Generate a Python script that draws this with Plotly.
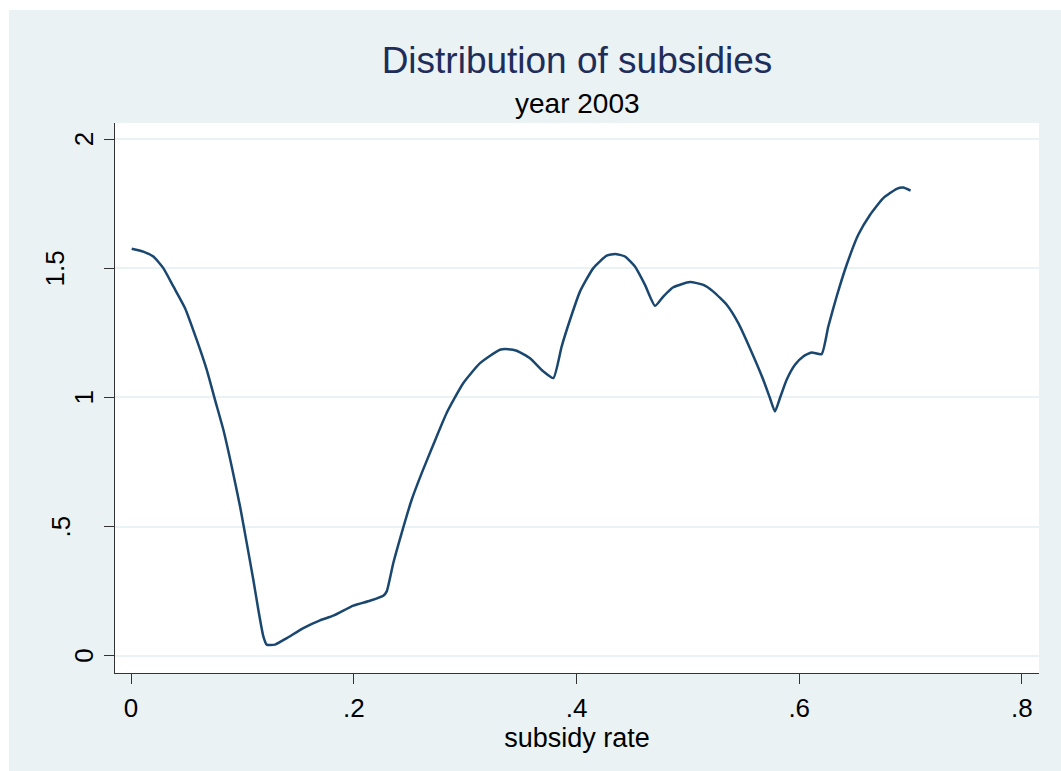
import plotly.graph_objects as go

# Kernel density estimate of subsidy rates, year 2003
subsidy_rate = [
    0.0006, 0.011, 0.020, 0.029, 0.038, 0.0485, 0.059, 0.068, 0.0754, 0.0829,
    0.0904, 0.0979, 0.1039, 0.1098, 0.1143, 0.1188, 0.1218, 0.1293, 0.1398, 0.1547,
    0.1697, 0.1817, 0.1996, 0.2146, 0.2265, 0.2296, 0.2355, 0.2430, 0.2520, 0.2610,
    0.2714, 0.2834, 0.2984, 0.3134, 0.3313, 0.3388, 0.3463, 0.3582, 0.3702, 0.3792,
    0.3867, 0.3942, 0.4031, 0.4151, 0.4271, 0.4346, 0.4435, 0.4525, 0.4615, 0.4705,
    0.4779, 0.4869, 0.5019, 0.5139, 0.5229, 0.5349, 0.5453, 0.5557, 0.5677, 0.5737,
    0.5782, 0.5827, 0.5887, 0.5962, 0.6036, 0.6111, 0.6201, 0.6261, 0.6336, 0.6426,
    0.6530, 0.6635, 0.6755, 0.6875, 0.6934, 0.7000,
]
density = [
    1.576, 1.565, 1.546, 1.501, 1.430, 1.346, 1.223, 1.107, 0.991, 0.875,
    0.733, 0.578, 0.436, 0.294, 0.178, 0.075, 0.043, 0.043, 0.068, 0.107,
    0.137, 0.155, 0.194, 0.213, 0.232, 0.249, 0.359, 0.475, 0.604, 0.707,
    0.817, 0.940, 1.056, 1.133, 1.185, 1.187, 1.181, 1.152, 1.101, 1.075,
    1.198, 1.301, 1.410, 1.501, 1.549, 1.556, 1.546, 1.507, 1.436, 1.355,
    1.391, 1.427, 1.447, 1.436, 1.410, 1.359, 1.288, 1.191, 1.069, 0.998,
    0.946, 0.998, 1.069, 1.127, 1.159, 1.174, 1.168, 1.275, 1.391, 1.514,
    1.630, 1.707, 1.772, 1.808, 1.813, 1.801,
]

x_tick_vals = [0, 0.2, 0.4, 0.6, 0.8]
x_tick_text = ["0", ".2", ".4", ".6", ".8"]
y_tick_vals = [0, 0.5, 1, 1.5, 2]
y_tick_text = ["0", ".5", "1", "1.5", "2"]

title_text = "Distribution of subsidies"
subtitle_text = "year 2003"
x_title = "subsidy rate"

W, H = 1061, 771
M_L, M_R, M_T, M_B = 115, 22, 123, 98
PW, PH = W - M_L - M_R, H - M_T - M_B

BG = "#EAF2F3"
NAVY = "#1A476F"
AXIS = "#333333"
FONT = "Liberation Sans, Arial, Helvetica, sans-serif"

# horizontal centre (in pixels) of each rotated y label, Stata-style placement
Y_LABEL_CENTER = {"0": 84, ".5": 61, "1": 84, "1.5": 55, "2": 84}


def px_x(p):
    return (p - M_L) / PW


def px_y(p):
    return (H - M_B - p) / PH


def cont_y(p):
    return (H - p) / H


fig = go.Figure()
fig.add_trace(go.Scatter(
    x=subsidy_rate, y=density, mode="lines",
    line=dict(color=NAVY, width=2.5, shape="spline", smoothing=0.5),
    showlegend=False, hoverinfo="skip",
))

y_label_annotations = [
    dict(text=t, x=px_x(Y_LABEL_CENTER[t]), xref="paper", xanchor="center",
         y=v, yref="y", yanchor="middle", textangle=-90, showarrow=False,
         font=dict(size=26, color="black"))
    for v, t in zip(y_tick_vals, y_tick_text)
]

fig.update_layout(
    width=W, height=H,
    margin=dict(l=M_L, r=M_R, t=M_T, b=M_B),
    paper_bgcolor=BG, plot_bgcolor="white",
    font=dict(family=FONT, color="black"),
    title=dict(
        text=title_text, x=0.5, xref="paper", xanchor="center",
        y=cont_y(60), yref="container", yanchor="middle",
        font=dict(size=37, color="#1F2D5A"),
    ),
    annotations=[dict(
        text=subtitle_text, x=0.5, xref="paper", xanchor="center",
        y=px_y(103), yref="paper", yanchor="middle", showarrow=False,
        font=dict(size=28, color="black"),
    )] + y_label_annotations,
    shapes=[
        dict(type="rect", xref="paper", yref="paper", layer="below",
             x0=px_x(0), x1=px_x(W), y0=px_y(0), y1=px_y(10),
             fillcolor="white", line=dict(width=0)),
        dict(type="rect", xref="paper", yref="paper", layer="below",
             x0=px_x(0), x1=px_x(9), y0=px_y(0), y1=px_y(H),
             fillcolor="white", line=dict(width=0)),
    ],
)

fig.update_xaxes(
    range=[-0.0144, 0.8153], tickvals=x_tick_vals, ticktext=x_tick_text,
    showgrid=False, zeroline=False,
    showline=True, linecolor=AXIS, linewidth=1,
    ticks="outside", ticklen=10, tickcolor=AXIS, tickwidth=1,
    tickfont=dict(size=26), ticklabelstandoff=2,
    title=dict(text=x_title, font=dict(size=27), standoff=2),
)
fig.update_yaxes(
    range=[-0.067, 2.063], tickvals=y_tick_vals, ticktext=[""] * len(y_tick_vals),
    showgrid=True, gridcolor=BG, gridwidth=2, zeroline=False,
    showline=True, linecolor=AXIS, linewidth=1,
    ticks="outside", ticklen=10, tickcolor=AXIS, tickwidth=1,
)

fig.write_html("out.html")
